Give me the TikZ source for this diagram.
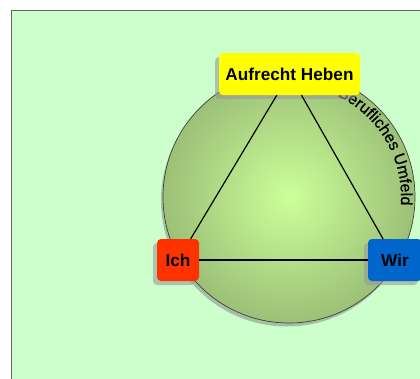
\documentclass[tikz,border=0pt]{standalone}
\usepackage{fontspec}
\setmainfont{Liberation Sans}
\newfontfamily\arcfont[FakeBold=0.8]{Liberation Sans}
\usetikzlibrary{decorations.text,shadows}
\definecolor{bg}{HTML}{CCFFCC}
\definecolor{ballin}{HTML}{CCFF99}
\definecolor{ballout}{HTML}{9CC077}
\definecolor{ybox}{HTML}{FFFF00}
\definecolor{rbox}{HTML}{FF3300}
\definecolor{bbox}{HTML}{0066CC}
\begin{document}
\begin{tikzpicture}[x=1pt,y=-1pt,
  lbl/.style={rectangle, rounded corners=4pt, inner sep=0pt,
    font=\bfseries\fontsize{17.2}{19}\selectfont, text=black,
    general shadow={fill=black!40, opacity=.6, shadow xshift=-4pt, shadow yshift=-4pt}},
  edge/.style={draw=black, line width=1.2pt}]
\useasboundingbox (0,0) rectangle (420,378);
\fill[white] (0,0) rectangle (420,378);
\draw[fill=bg, draw=black!60, line width=0.8pt] (11,10) rectangle (430,390);
% environment circle
\node[circle, minimum size=252pt, inner sep=0pt, draw=black!75, line width=0.7pt,
  inner color=ballin, outer color=ballout,
  general shadow={fill=black!50, opacity=.5, shadow xshift=-2pt, shadow yshift=-3.5pt}]
  (env) at (289,197) {};
\path[decorate, decoration={text along path,
    text format delimiters={|}{|},
    text={|\arcfont\fontsize{16}{18}\selectfont|Berufliches Umfeld},
    text align=left}]
  (env.center) ++(-64.5:112) arc[start angle=-64.5, end angle=12, radius=112];
% nodes
\node[lbl, fill=ybox, minimum width=141pt, minimum height=42pt] (top) at (289.5,74) {Aufrecht Heben};
\node[lbl, fill=rbox, minimum width=42pt, minimum height=42pt] (ich) at (178,260) {Ich};
\node[lbl, fill=bbox, minimum width=54pt, minimum height=42pt] (wir) at (395,260) {Wir};
% connectors
\draw[edge] (top) -- (ich);
\draw[edge] (top) -- (wir);
\draw[edge] (ich) -- (wir);
\end{tikzpicture}
\end{document}
